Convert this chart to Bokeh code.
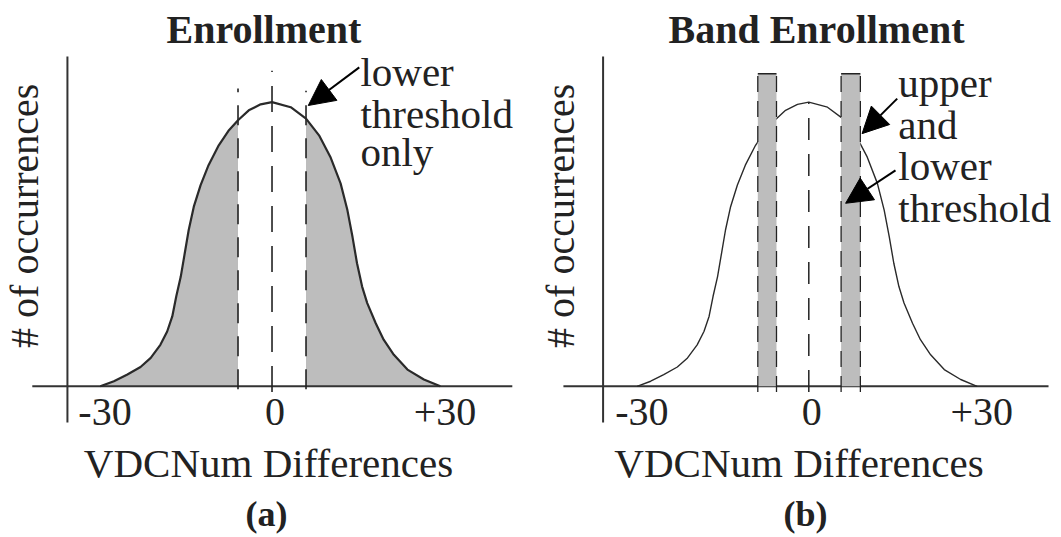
import math
from bokeh.plotting import figure
from bokeh.layouts import row
from bokeh.models import Range1d, Label, Arrow, NormalHead, Title, FixedTicker
from bokeh.core.properties import value
from bokeh.embed import file_html
from bokeh.resources import INLINE

# ---------------- data ----------------
# bell-shaped distribution of VDCNum differences (peak = 100)
CURVE_X = [-30.3, -27.9, -25.6, -23.2, -21.4, -19.7, -18.5, -17.6, -16.9, -16.1,
           -15.4, -14.7, -13.8, -12.6, -11.2, -9.4, -7.6, -6.0, -4.1, -2.0,
           0.0, 3.3, 6.0, 8.3, 10.3, 12.1, 13.3, 14.2, 15.0, 15.9,
           16.8, 18.3, 19.7, 21.5, 23.9, 26.8, 29.7]
CURVE_Y = [0.0, 1.8, 4.1, 6.8, 10.0, 14.6, 19.3, 24.6, 31.6, 38.6,
           46.8, 55.0, 63.2, 70.8, 77.8, 84.8, 90.1, 93.6, 97.1, 99.2,
           100.0, 98.2, 94.2, 88.3, 80.7, 71.4, 62.0, 52.6, 43.3, 35.1,
           29.3, 22.2, 16.4, 11.1, 5.9, 2.4, 0.0]
THRESHOLDS = [-6.0, 6.0]            # panel (a): lower threshold only
BAND_LEFT = [-9.0, 5.7]             # panel (b): upper and lower thresholds
BAND_RIGHT = [-5.7, 9.1]
BAND_TOP = 110.0
TICKS = [-30, 0, 30]
TICK_LABELS = ["-30", "0", "+30"]

FONT = "Liberation Serif"
INK = "#222222"
GRAY = "#bdbdbd"
Y_RANGE = (-18.7, 117.44)


def base_fig(width, xr, title, title_offset, sub, sub_offset):
    p = figure(width=width, height=537, x_range=Range1d(*xr), y_range=Range1d(*Y_RANGE),
               output_backend="svg", toolbar_location=None, y_axis_location=None,
               min_border_left=0, min_border_right=0, min_border_top=52,
               min_border_bottom=97, title=title)
    p.outline_line_color = None
    p.grid.visible = False
    p.background_fill_color = "white"
    p.border_fill_color = "white"
    p.title.align = "left"
    p.title.offset = title_offset
    p.title.text_font = FONT
    p.title.text_font_size = "40px"
    p.title.text_font_style = "bold"
    p.title.text_color = INK
    p.title.standoff = 1

    ax = p.xaxis[0]
    ax.ticker = FixedTicker(ticks=[])
    ax.axis_line_color = None
    ax.major_tick_line_color = None
    ax.minor_tick_line_color = None
    ax.major_tick_out = 0
    ax.major_tick_in = 0
    ax.major_label_standoff = 0
    ax.axis_label = "VDCNum Differences"
    ax.axis_label_text_font = FONT
    ax.axis_label_text_font_size = "41px"
    ax.axis_label_text_font_style = "normal"
    ax.axis_label_text_color = INK
    ax.axis_label_standoff = 0

    p.add_layout(Title(text=sub, align="left", offset=sub_offset, text_font=FONT, standoff=7,
                       text_font_size="36px", text_font_style="bold", text_color=INK), "below")

    # tick labels of the x axis
    p.text(x=TICKS, y=[-9.1] * len(TICKS), text=TICK_LABELS, text_font=value(FONT),
           text_font_size=value("40px"), text_align="center", text_baseline="middle",
           text_color=INK, x_offset=3)
    return p


def axes_cross(p, yx, x0, x1):
    p.segment(x0=[x0], y0=[0], x1=[x1], y1=[0], line_color="#333333", line_width=2)
    p.segment(x0=[yx], y0=[-12.7], x1=[yx], y1=[116.0], line_color="#333333", line_width=2)


def y_label(p, x):
    p.add_layout(Label(x=x, y=60, text="# of occurrences", angle=math.pi / 2,
                       text_align="center", text_baseline="middle", text_font=FONT,
                       text_font_size="40px", text_color=INK))


def note(p, x, ys, lines):
    for t, yy in zip(lines, ys):
        p.add_layout(Label(x=x, y=yy, text=t, text_align="left", text_baseline="middle",
                           text_font=FONT, text_font_size="41px", text_color=INK))


def arrow(p, xs, ys, xe, ye):
    p.add_layout(Arrow(end=NormalHead(size=26, fill_color="black", line_color="black"),
                       x_start=xs, y_start=ys, x_end=xe, y_end=ye,
                       line_color="black", line_width=2))


# ---------------- panel (a) ----------------
pa = base_fig(536, (-47.91, 46.67), "Enrollment", 166, "(a)", 245)
lx = [x for x in CURVE_X if x <= THRESHOLDS[0]]
ly = [y for x, y in zip(CURVE_X, CURVE_Y) if x <= THRESHOLDS[0]]
rx = [x for x in CURVE_X if x >= THRESHOLDS[1]]
ry = [y for x, y in zip(CURVE_X, CURVE_Y) if x >= THRESHOLDS[1]]
pa.varea(x=lx, y1=[0] * len(lx), y2=ly, fill_color=GRAY)
pa.varea(x=rx, y1=[0] * len(rx), y2=ry, fill_color=GRAY)
axes_cross(pa, -36.1, -42.3, 42.4)
pa.segment(x0=THRESHOLDS, y0=[-1.0, -1.0], x1=THRESHOLDS, y1=[104.8, 104.0],
           line_color=INK, line_width=1.6, line_dash="20 13")
pa.segment(x0=[0], y0=[-2.0], x1=[0], y1=[111.0], line_color=INK, line_width=1.6,
           line_dash="26 14")
pa.line(CURVE_X, CURVE_Y, line_color="#2a2a2a", line_width=2.2)
y_label(pa, -43.6)
note(pa, 15.6, [110.6, 95.8, 82.3], ["lower", "threshold", "only"])
arrow(pa, 15.4, 112.2, 6.4, 98.8)

# ---------------- panel (b) ----------------
pb = base_fig(525, (-48.05, 44.59), "Band Enrollment", 132, "(b)", 247)
axes_cross(pb, -36.3, -43.3, 42.3)
pb.line(CURVE_X, CURVE_Y, line_color="#2a2a2a", line_width=1.4)
pb.quad(left=BAND_LEFT, right=BAND_RIGHT, bottom=[0, 0], top=[BAND_TOP, BAND_TOP],
        fill_color=GRAY, line_color=None)
edges = BAND_LEFT + BAND_RIGHT
pb.segment(x0=edges, y0=[-2.0] * 4, x1=edges, y1=[BAND_TOP] * 4, line_color=INK,
           line_width=1.3, line_dash="16 9")
pb.segment(x0=BAND_LEFT, y0=[BAND_TOP] * 2, x1=BAND_RIGHT, y1=[BAND_TOP] * 2,
           line_color=INK, line_width=1.5)
pb.segment(x0=[0], y0=[-2.0], x1=[0], y1=[100.0], line_color=INK, line_width=1.5,
           line_dash="22 14")
y_label(pb, -43.8)
note(pb, 15.8, [106.8, 92.1, 77.4, 62.6], ["upper", "and", "lower", "threshold"])
arrow(pb, 15.6, 101.2, 9.4, 88.9)
arrow(pb, 15.3, 76.0, 6.5, 64.4)

layout = row(pa, pb)
open("out.html", "w").write(file_html(layout, INLINE))
